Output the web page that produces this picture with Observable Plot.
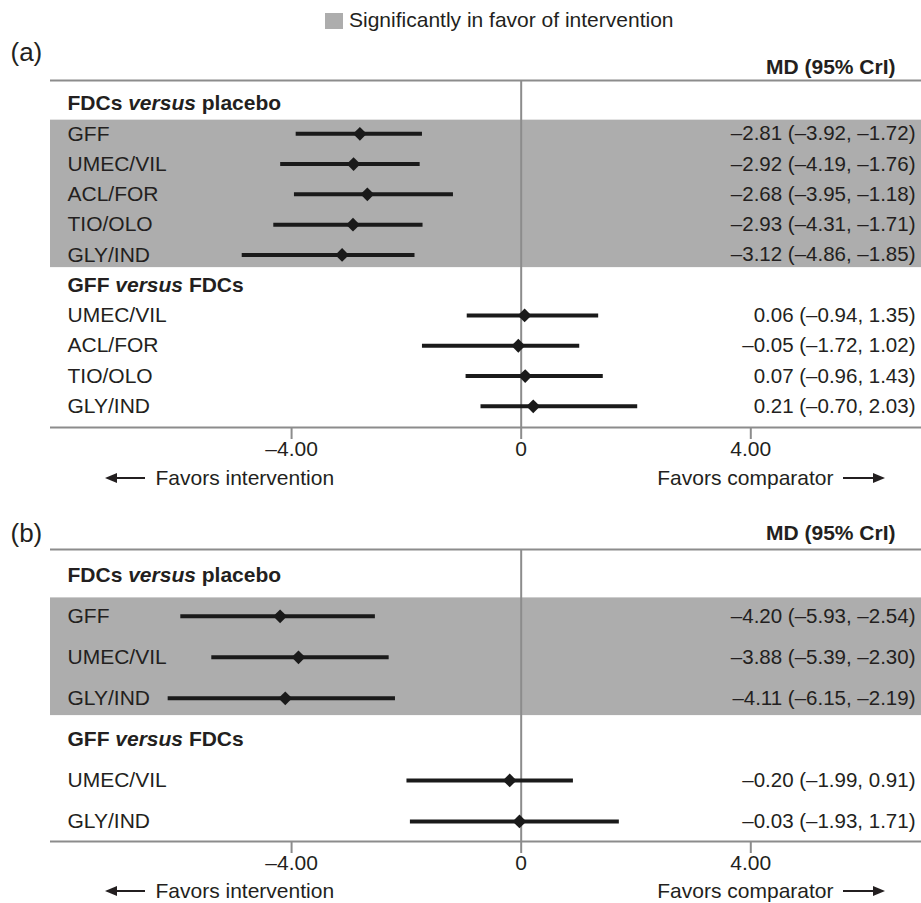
<!DOCTYPE html>
<html>
<head>
<meta charset="utf-8">
<script src="https://cdn.jsdelivr.net/npm/d3@7"></script>
<script src="https://cdn.jsdelivr.net/npm/@observablehq/plot@0.6"></script>
<style>
  html, body { margin: 0; padding: 0; background: #fff; overflow: hidden; }
  body { width: 921px; height: 903px; font-family: 'Liberation Sans', Arial, Helvetica, sans-serif; color: #231f20; }
  #legend { position: relative; height: 30px; width: 921px; }
  #legend .sw { position: absolute; left: 325px; top: 13px; width: 18px; height: 16px; background: #adadad; }
  #legend .lt { position: absolute; left: 349px; top: 8px; font-size: 21px; line-height: 24px; }
  svg { display: block; }
</style>
</head>
<body>
<div id="legend"><div class="sw"></div><div class="lt">Significantly in favor of intervention</div></div>
<div id="charts"></div>
<script>
// ---- Panel (a) data ----
const aTitle1 = "FDCs versus placebo";
const aLabels1 = ["GFF", "UMEC/VIL", "ACL/FOR", "TIO/OLO", "GLY/IND"];
const aMD1 = [-2.81, -2.92, -2.68, -2.93, -3.12];
const aLo1 = [-3.92, -4.19, -3.95, -4.31, -4.86];
const aHi1 = [-1.72, -1.76, -1.18, -1.71, -1.85];

const aTitle2 = "GFF versus FDCs";
const aLabels2 = ["UMEC/VIL", "ACL/FOR", "TIO/OLO", "GLY/IND"];
const aMD2 = [0.06, -0.05, 0.07, 0.21];
const aLo2 = [-0.94, -1.72, -0.96, -0.70];
const aHi2 = [1.35, 1.02, 1.43, 2.03];

// ---- Panel (b) data ----
const bTitle1 = "FDCs versus placebo";
const bLabels1 = ["GFF", "UMEC/VIL", "GLY/IND"];
const bMD1 = [-4.20, -3.88, -4.11];
const bLo1 = [-5.93, -5.39, -6.15];
const bHi1 = [-2.54, -2.30, -2.19];

const bTitle2 = "GFF versus FDCs";
const bLabels2 = ["UMEC/VIL", "GLY/IND"];
const bMD2 = [-0.20, -0.03];
const bLo2 = [-1.99, -1.93];
const bHi2 = [0.91, 1.71];

const xTicks = [-4, 0, 4];
const headerText = "MD (95% CrI)";
const leftNote = "Favors intervention";
const rightNote = "Favors comparator";

// ---- helpers ----
const FONT = "'Liberation Sans', Arial, Helvetica, sans-serif";
const INK = "#231f20";
const GRID = "#8c8c8c";
const BAND = "#adadad";
const fmt = v => (v < 0 ? "\u2013" : "") + Math.abs(v).toFixed(2);
const tickFmt = v => v === 0 ? "0" : fmt(v);

function buildRows(groups) {
  const rows = [], headers = [], bands = [];
  let i = 0;
  for (const g of groups) {
    headers.push({row: i, text: g.title});
    i++;
    const first = i;
    g.labels.forEach((l, k) => {
      rows.push({row: i, label: l, md: g.md[k], lo: g.lo[k], hi: g.hi[k],
                 txt: `${fmt(g.md[k])} (${fmt(g.lo[k])}, ${fmt(g.hi[k])})`});
      i++;
    });
    if (g.sig) bands.push({y1: first - 0.45, y2: i - 1 + 0.42});
  }
  return {rows, headers, bands, last: i - 1};
}

// direction arrows below the axis (decoration, drawn in frame pixels)
function arrowsMark(cfg) {
  return () => {
    const W = 921;
    const y = cfg.height - cfg.marginBottom + cfg.noteDy;
    const g = d3.create("svg:g").attr("fill", INK).attr("stroke", INK);
    // left arrow: tip at x=105, shaft to 145
    g.append("line").attr("x1", 112).attr("x2", 145).attr("y1", y).attr("y2", y).attr("stroke-width", 2);
    g.append("path").attr("stroke", "none").attr("d", `M105,${y}L117,${y - 5}L117,${y + 5}Z`);
    // right arrow: shaft from 843, tip at 885
    g.append("line").attr("x1", 843).attr("x2", 878).attr("y1", y).attr("y2", y).attr("stroke-width", 2);
    g.append("path").attr("stroke", "none").attr("d", `M885,${y}L873,${y - 5}L873,${y + 5}Z`);
    return g.node();
  };
}

function panel(cfg) {
  const {rows, headers, bands, last} = buildRows(cfg.groups);
  const yTop = cfg.topGap, yBot = last + cfg.bottomGap;
  const svg = Plot.plot({
    width: 921,
    height: cfg.height,
    marginLeft: 50,
    marginRight: 0,
    marginTop: cfg.marginTop,
    marginBottom: cfg.marginBottom,
    style: {fontFamily: FONT, fontSize: "21px", color: INK, background: "white"},
    x: {domain: [-8.2, 6.974], axis: null},
    y: {domain: [yTop, yBot], reverse: true, axis: null},
    marks: [
      Plot.rect(bands, {y1: "y1", y2: "y2", fill: BAND}),
      Plot.ruleY([yTop, yBot], {stroke: GRID, strokeWidth: 2}),
      Plot.ruleX([0], {stroke: GRID, strokeWidth: 2}),
      Plot.axisX({anchor: "bottom", ticks: xTicks, tickFormat: tickFmt, tickSize: 12, tickPadding: 2,
                  stroke: GRID, strokeWidth: 2, fill: INK, fontSize: 21}),
      Plot.ruleY(rows, {y: "row", x1: "lo", x2: "hi", stroke: "#1a1a1a", strokeWidth: 4}),
      Plot.dot(rows, {x: "md", y: "row", symbol: "diamond2", r: 6.2, fill: "#1a1a1a", stroke: "none"}),
      Plot.text(rows, {y: "row", text: "label", frameAnchor: "left", dx: 17, textAnchor: "start", fill: INK, fontSize: 21}),
      Plot.text(rows, {y: "row", text: "txt", frameAnchor: "right", dx: -6, textAnchor: "end", fill: INK, fontSize: 20.5}),
      Plot.text(headers, {y: "row", text: "text", frameAnchor: "left", dx: 17, textAnchor: "start", fill: INK, fontSize: 21, fontWeight: "bold"}),
      Plot.text([cfg.tag], {frameAnchor: "top-left", dx: -40, dy: cfg.tagDy, textAnchor: "start", lineAnchor: "middle", fill: INK, fontSize: 26}),
      Plot.text([headerText], {frameAnchor: "top-right", dx: -26, dy: cfg.headDy, textAnchor: "end", lineAnchor: "middle", fill: INK, fontSize: 21, fontWeight: "bold"}),
      Plot.text([leftNote], {frameAnchor: "bottom-left", dx: 105, dy: cfg.noteDy, textAnchor: "start", lineAnchor: "middle", fill: INK, fontSize: 21}),
      Plot.text([rightNote], {frameAnchor: "bottom-right", dx: -88, dy: cfg.noteDy, textAnchor: "end", lineAnchor: "middle", fill: INK, fontSize: 21}),
      arrowsMark(cfg)
    ]
  });
  // italicise "versus" inside the group headings
  svg.querySelectorAll("text").forEach(t => {
    const s = t.textContent;
    if (/ versus /.test(s) && t.childElementCount === 0) {
      const [a, b] = s.split(" versus ");
      t.textContent = "";
      const ns = "http://www.w3.org/2000/svg";
      const t1 = document.createElementNS(ns, "tspan"); t1.textContent = a + " ";
      const t2 = document.createElementNS(ns, "tspan"); t2.textContent = "versus"; t2.setAttribute("font-style", "italic");
      const t3 = document.createElementNS(ns, "tspan"); t3.textContent = " " + b;
      t.append(t1, t2, t3);
    }
  });
  return svg;
}

const charts = document.getElementById("charts");
const cfgA = {
  tag: "(a)", height: 470, marginTop: 50, marginBottom: 73, topGap: -0.76, bottomGap: 0.7,
  tagDy: -28, headDy: -13, noteDy: 51,
  groups: [
    {title: aTitle1, labels: aLabels1, md: aMD1, lo: aLo1, hi: aHi1, sig: true},
    {title: aTitle2, labels: aLabels2, md: aMD2, lo: aLo2, hi: aHi2, sig: false}
  ]
};
const cfgB = {
  tag: "(b)", height: 403, marginTop: 49, marginBottom: 62, topGap: -0.63, bottomGap: 0.49,
  tagDy: -16, headDy: -16, noteDy: 50,
  groups: [
    {title: bTitle1, labels: bLabels1, md: bMD1, lo: bLo1, hi: bHi1, sig: true},
    {title: bTitle2, labels: bLabels2, md: bMD2, lo: bLo2, hi: bHi2, sig: false}
  ]
};
charts.appendChild(panel(cfgA));
charts.appendChild(panel(cfgB));
</script>
</body>
</html>
